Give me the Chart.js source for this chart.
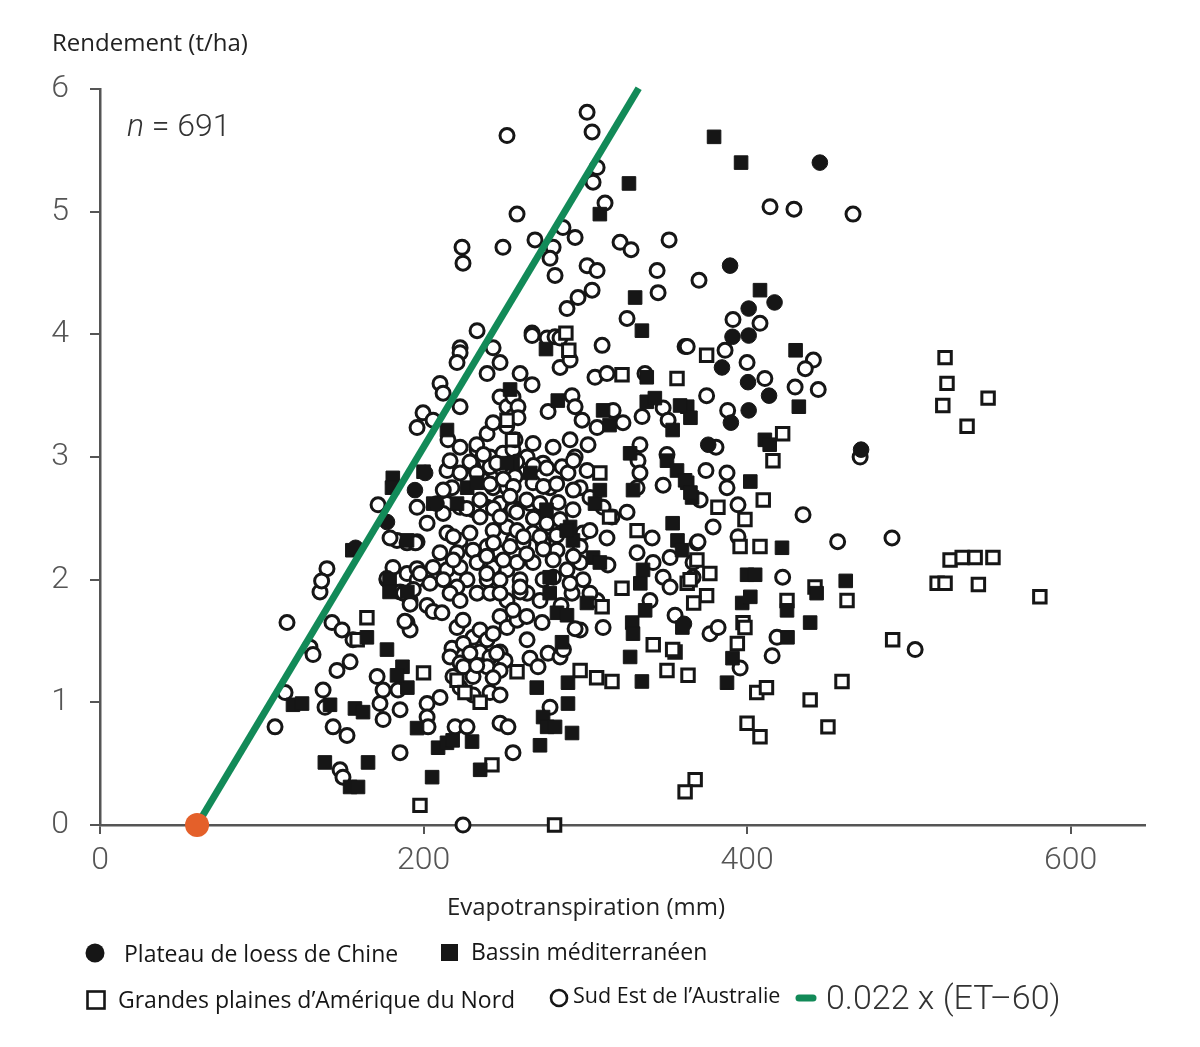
<!DOCTYPE html>
<html>
<head>
<meta charset="utf-8">
<script src="https://cdn.jsdelivr.net/npm/chart.js@4"></script>
<style>
html,body{margin:0;padding:0;background:#fff;}
#wrap{width:1200px;height:1047px;}
</style>
</head>
<body>
<div id="wrap"><canvas id="c" width="1200" height="1047"></canvas></div>
<script>
// ---- Data (ET in mm, yield in t/ha) ----
const xTicks = [0, 200, 400, 600];
const yTicks = [0, 1, 2, 3, 4, 5, 6];
const fitSlope = 0.022;
const fitET0 = 60;
const fitETEnd = 333;

const loessPoints = [
  [445,5.40],[389.5,4.56],[401,4.21],[417,4.26],[401,3.99],[391,3.98],[384.5,3.73],[400.6,3.61],
  [413.6,3.50],[401,3.38],[390,3.28],[376,3.10],[470.5,3.06],[201,2.87],[194.7,2.73],[177.4,2.47],
  [208,2.62],[158,2.26],[361,1.64]
];

const mediterraneanPoints = [
  [379.6,5.61],[396.3,5.40],[327,5.23],[309,4.98],[330.8,4.30],[335,4.03],[275.7,3.88],[408,4.36],
  [430,3.87],[432,3.41],[363,3.41],[365,3.32],[411,3.14],[414,3.10],[402,2.80],[363,2.79],[366,2.67],
  [421.6,2.26],[400,2.04],[405,2.04],[461,1.99],[443,1.89],[397,1.81],[402,1.86],[424.7,1.75],[439,1.65],
  [425,1.53],[391,1.36],[387.6,1.16],[360,1.61],
  [338,3.65],[283,3.46],[311,3.38],[315,3.26],[338,3.45],[343,3.48],[358.6,3.42],[354,3.22],[350.5,2.97],
  [356.7,2.89],[361.7,2.81],[365,2.71],[327.7,3.03],[329.5,2.73],[255,2.95],[266,2.87],[309,2.73],[306,2.62],
  [290.6,2.43],[292.4,2.32],[276,2.57],[354,2.46],[357,2.32],[359.8,2.24],[304.8,2.18],[309,2.14],[335.7,2.08],
  [278,2.02],[288.5,2.40],
  [181,2.83],[180.5,2.75],[214.5,3.22],[200,2.88],[227,2.75],[233,2.79],[206,2.62],[220.7,2.62],[253.5,3.55],
  [251.6,2.95],[156,2.24],[189.8,2.32],[179,2.0],
  [179,1.9],[190,1.9],[165,1.53],[177.4,1.43],[187,1.29],[190,1.12],[183.6,1.22],[119.3,0.98],[124.9,0.99],
  [142.2,0.98],[157.6,0.95],[162.6,0.92],[139,0.51],[165.7,0.51],[154.6,0.31],[159.5,0.31],[196,0.79],
  [205.3,0.39],[209,0.63],[214.5,0.67],[218,0.69],[230,0.68],[235,0.45],[273.9,0.88],[276.4,0.80],[281.3,0.80],
  [272,0.65],[291.8,0.75],[270,1.12],[289.3,1.16],[289.3,0.99],[285.6,1.49],[278,1.89],[282.5,1.73],[288.7,1.71],
  [301,1.81],[334,1.97],[337,1.75],[329,1.65],[329.5,1.56],[327.7,1.37],[335,1.17]
];

const greatPlainsPoints = [
  [522.4,3.81],[523.6,3.60],[521,3.42],[549,3.48],[536,3.25],[525.5,2.16],[533,2.18],[541,2.18],[552,2.18],
  [517.5,1.97],[522.4,1.97],[543,1.96],[581,1.86],
  [375,3.83],[422,3.19],[416,2.97],[410,2.65],[382,2.59],[398.7,2.49],[408,2.27],[395.7,2.27],[442,1.94],
  [461.8,1.83],[424.7,1.83],[369,2.16],[377,2.05],[363,1.97],[375,1.87],[367,1.81],[397.5,1.65],
  [398.7,1.61],[394,1.48],[355.5,1.41],[350.5,1.26],[363.5,1.22],[406,1.08],[412,1.12],[458.7,1.17],[490,1.51],
  [439,1.02],[450,0.80],[400,0.83],[408,0.72],[367.9,0.37],[361.7,0.27],
  [165,1.69],[159,1.51],[200,1.24],[220.7,1.18],[225.6,1.08],[235,1.0],[242.3,0.49],[197.8,0.16],[257.8,1.25],
  [296.8,1.26],[307,1.2],[316.5,1.17],[310.4,1.78],[322.7,1.93],[342,1.47],[354,1.43],[281,0],
  [251.6,3.30],[255,3.14],[356.7,3.64],[309,2.87],[332,2.40],[364.8,2.0],[315,2.51],[288,4.01],[289.8,3.87],
  [322.7,3.67]
];

const australiaPoints = [
  [301.1,5.81],[304.2,5.65],[251.6,5.62],[307.3,5.36],[304.8,5.24],[257.8,4.98],[223.8,4.71],[224.4,4.58],
  [249.1,4.71],[268.9,4.77],[280.1,4.71],[278.2,4.62],[281.3,4.48],[312.2,5.07],[414.2,5.04],[429,5.02],
  [465.5,4.98],[286.2,4.87],[293.7,4.79],[321.5,4.75],[328.3,4.69],[351.8,4.77],[301.1,4.56],[307.3,4.52],
  [344.4,4.52],[370.3,4.44],[304.2,4.36],[295.5,4.30],[288.7,4.21],[345,4.34],[325.8,4.13],[391.3,4.12],
  [408,4.09],[233.1,4.03],[222.6,3.89],[267.1,4.01],[276.4,3.97],[281.3,3.98],
  [222.6,3.85],[220.7,3.77],[243,3.89],[247.3,3.77],[239.3,3.68],[210.2,3.60],[212.1,3.52],[222.6,3.41],
  [199.7,3.36],[196,3.24],[205.9,3.30],[215.1,3.14],[222.6,3.08],[247.3,3.49],[251.6,3.41],[255.3,3.33],
  [239.3,3.19],[243,3.28],[233.1,3.06],[241.1,3.00],[249.1,3.03],[255.3,3.06],[214.5,2.89],[222.6,2.87],
  [230.6,2.92],[241.1,2.92],[249.1,2.89],[255.3,2.87],[217.6,2.75],[236.8,2.81],[243,2.75],[251.6,2.75],
  [196,2.59],[214.5,2.62],[222.6,2.59],[230.6,2.57],[239.3,2.59],[247.3,2.62],[255.3,2.59],[202.2,2.46],
  [212.1,2.54],[234.9,2.51],[171.9,2.61],[183.6,2.32],[196,2.31],[214.5,2.38],[222.6,2.32],[228.7,2.38],
  [243,2.40],[251.6,2.43],[255.3,2.32],[210.2,2.22],[220.7,2.22],[230.6,2.24],[239.3,2.27],[247.3,2.22],
  [181.1,2.10],[189.8,2.05],[205.9,2.10],[214.5,2.08],[222.6,2.10],[233.1,2.14],[243,2.10],[251.6,2.08],
  [140.3,2.09],[177.4,2.00],[196,2.00],[226.9,2.00],[239.3,2.00],
  [267.1,3.99],[284.4,3.97],[310.4,3.91],[361.7,3.90],[284.4,3.73],[290.6,3.79],[259.7,3.68],[267.1,3.59],
  [306,3.65],[313.4,3.68],[336.9,3.68],[255.3,3.49],[258.4,3.41],[258.4,3.32],[277,3.37],[291.8,3.50],
  [293.7,3.41],[298,3.30],[307.3,3.24],[317.2,3.38],[323.3,3.28],[335.1,3.33],[348.1,3.40],[351.2,3.30],
  [333.8,3.10],[332.6,2.97],[333.8,2.87],[332,2.75],[348.1,2.77],[350.5,3.02],[256.6,3.14],[267.7,3.11],
  [280.1,3.08],[290.6,3.14],[301.7,3.10],[293.7,3.00],[285.6,2.92],[273.9,2.95],[264,3.00],[256.6,2.84],
  [267.7,2.79],[278.2,2.75],[289.3,2.87],[301.1,2.89],[296.8,2.75],[302.9,2.67],[311,2.59],[325.8,2.55],
  [316.5,2.51],[255.3,2.57],[265.8,2.62],[273.9,2.51],[283.2,2.63],[292.4,2.57],[257.8,2.40],[267.7,2.38],
  [278.2,2.43],[261.5,2.30],[273.9,2.30],[282.5,2.24],[298.6,2.38],[302.9,2.40],[313.4,2.34],[296.8,2.27],
  [341.3,2.34],[369.1,2.30],[257.8,2.14],[267.7,2.14],[280.1,2.16],[288.7,2.08],[296.8,2.14],[314,2.12],
  [332,2.22],[341.9,2.14],[352.4,2.18],[366.6,2.14],[259.7,2.00],[273.9,2.00],[298.6,2.00],[348.1,2.02],
  [366.6,2.02],
  [136,1.90],[115.6,1.65],[143.4,1.65],[149.6,1.59],[156.4,1.51],[129.8,1.45],[131.7,1.39],[146.5,1.26],
  [154.6,1.33],[171.3,1.21],[137.9,1.10],[139.1,0.96],[114.4,1.08],[108.2,0.80],[144.1,0.80],[152.7,0.73],
  [148.4,0.45],[150.2,0.39],[185.5,0.59],[175,0.86],[173.1,0.99],[175,1.10],[184.2,1.10],[185.5,0.94],
  [189.8,1.65],[191.7,1.59],[191.7,1.83],[185.5,1.90],[202.2,1.79],[205.9,1.74],[211.4,1.73],[202.2,0.99],
  [202.2,0.88],[202.8,0.80],[210.2,1.04],[219.5,0.80],[226.9,0.80],[247.3,0.83],[252.2,0.80],[255.3,0.59],
  [220.7,1.61],[224.4,1.67],[230.6,1.53],[234.9,1.59],[239.3,1.51],[243,1.56],[247.3,1.70],[251.6,1.61],
  [257.8,1.67],[264,1.51],[273.3,1.65],[217.6,1.44],[216.4,1.37],[222.6,1.32],[230.6,1.37],[234.9,1.41],
  [241.1,1.37],[247.3,1.41],[250.4,1.34],[239.3,1.29],[247.3,1.26],[230.6,1.21],[243,1.20],[218.2,1.21],
  [222.6,1.12],[230.6,1.06],[241.1,1.08],[247.3,1.06],[265.8,1.36],[270.8,1.29],[277,1.40],[284.4,1.37],
  [296.8,1.59],[311,1.61],[291.8,1.89],[307.3,1.83],[340,1.83],[278.2,0.96],[352.4,1.94],[220.7,1.94],
  [233.1,1.89],[241.1,1.89],[251.6,1.83],[255.3,1.75],[264,1.89],[272,1.83],[137,1.99],
  [179.3,2.34],[189.8,2.30],[195,2.30],[177.4,2.01],[196,2.09],[187.6,1.89],[191.7,1.80],[188.5,1.66],
  [363,3.90],[386.4,3.87],[400,3.77],[411,3.64],[441,3.79],[436,3.72],[444,3.55],[429.7,3.57],[375,3.50],
  [388,3.38],[387.6,2.87],[387.6,2.75],[371,2.65],[394.4,2.61],[379,2.43],[369.7,2.31],[394.4,2.35],[422,2.02],
  [434.6,2.53],[456,2.31],[489.6,2.34],[469.9,3.0],[380.8,3.08],[374.6,2.89],
  [377.1,1.56],[382.1,1.61],[395.7,1.28],[415.5,1.38],[418.5,1.53],[503.9,1.43],[355.5,1.71],[224.4,0],
  // denser core (second reading)
  [232.9,3.10],[251.4,3.25],[216.4,2.97],[228.7,2.96],[237,3.02],[245.2,2.95],[257.6,2.96],[267.9,2.93],
  [276.2,2.91],[292.6,2.97],[232.9,2.87],[241.1,2.78],[249.3,2.82],[255.5,2.76],[274.1,2.76],[282.3,2.78],
  [292.6,2.73],[212.2,2.73],[226.7,2.58],[234.9,2.65],[243.2,2.58],[253.5,2.68],[263.8,2.65],[272,2.62],
  [247.3,2.51],[257.6,2.55],[267.9,2.50],[276.2,2.46],[284.4,2.49],[218.4,2.35],[261.7,2.35],[272,2.35],
  [282.3,2.36],[243.2,2.30],[253.5,2.27],[263.8,2.21],[274.1,2.25],[292.6,2.19],[197.8,2.05],[218.4,2.16],
  [239.1,2.19],[249.3,2.16],[204,1.97],[212.2,2.0],[239.1,2.05],[247.3,2.0],[280.3,2.02],[290.6,1.97],
  [193.7,1.92],[216.4,1.89],[247.3,1.89],[259.7,1.90],
  [222.6,1.83],[259.7,1.94],[263.8,1.70],[224.6,1.48],[228.7,1.40],[245.2,1.40],[224.6,1.29],[232.9,1.30],
  [286.5,1.43],[293.7,1.60],[302.9,1.89],[285,1.79]
];

const toXY = arr => arr.map(p => ({x: p[0], y: p[1]}));

const INK = '#161616';

const textPlugin = {
  id: 'texts',
  afterDraw(chart) {
    const ctx = chart.ctx;
    ctx.save();
    ctx.fillStyle = '#222';
    ctx.textBaseline = 'middle';
    ctx.textAlign = 'left';
    ctx.font = '24px "Open Sans"';
    ctx.fillText('Rendement (t/ha)', 52, 44);
    ctx.textAlign = 'center';
    ctx.fillText('Evapotranspiration (mm)', 586, 908);

    // n = 691
    ctx.textAlign = 'left';
    ctx.fillStyle = '#333';
    ctx.font = 'italic 300 32px Roboto';
    ctx.fillText('n', 127, 128);
    const nw = ctx.measureText('n').width;
    ctx.font = '300 32px Roboto';
    ctx.fillText(' = 691', 127 + nw, 128);

    // legend
    ctx.fillStyle = INK;
    ctx.strokeStyle = INK;
    ctx.font = '23px "Open Sans"';
    ctx.beginPath(); ctx.arc(95, 953, 9.5, 0, Math.PI * 2); ctx.fill();
    ctx.fillText('Plateau de loess de Chine', 124, 955);
    ctx.fillRect(441, 944, 17, 17);
    ctx.fillText('Bassin méditerranéen', 471, 953);

    ctx.lineWidth = 2.6;
    ctx.strokeRect(87.5, 991.5, 17, 17);
    ctx.fillText('Grandes plaines d’Amérique du Nord', 118, 1001);
    ctx.beginPath(); ctx.arc(559, 998, 8, 0, Math.PI * 2); ctx.stroke();
    ctx.font = '21.5px "Open Sans"';
    ctx.fillText('Sud Est de l’Australie', 573, 997);

    ctx.strokeStyle = '#128a58';
    ctx.lineWidth = 7;
    ctx.lineCap = 'round';
    ctx.beginPath(); ctx.moveTo(799, 998); ctx.lineTo(813, 998); ctx.stroke();
    ctx.fillStyle = '#333';
    ctx.font = '300 34px Roboto';
    ctx.fillText('0.022 x (ET–60)', 826, 1000);
    ctx.restore();
  }
};

const fitLine = [fitET0, fitETEnd].map(et => ({x: et, y: fitSlope * (et - fitET0)}));

const openStyle = {backgroundColor: '#ffffff', borderColor: INK, borderWidth: 3};
const filledStyle = {backgroundColor: INK, borderColor: INK, borderWidth: 1};

new Chart(document.getElementById('c'), {
  type: 'scatter',
  data: {
    datasets: [
      {label: 'Orange', data: [{x: fitET0, y: 0}], pointRadius: 12, pointHoverRadius: 12,
        backgroundColor: '#e4602a', borderColor: '#e4602a', borderWidth: 0, order: -1, clip: false},
      {label: '0.022 x (ET–60)', type: 'line', data: fitLine, borderColor: '#128a58', borderWidth: 7,
        pointRadius: 0, fill: false, order: 0, clip: false, borderCapStyle: 'butt'},
      Object.assign({label: 'Plateau de loess de Chine', data: toXY(loessPoints), pointStyle: 'circle',
        pointRadius: 7.8, order: 1, clip: false}, filledStyle),
      Object.assign({label: 'Bassin méditerranéen', data: toXY(mediterraneanPoints), pointStyle: 'rect',
        pointRadius: 9.6, order: 2, clip: false}, filledStyle),
      Object.assign({label: 'Grandes plaines d’Amérique du Nord', data: toXY(greatPlainsPoints), pointStyle: 'rect',
        pointRadius: 8.8, order: 3, clip: false}, openStyle),
      Object.assign({label: 'Sud Est de l’Australie', data: toXY(australiaPoints), pointStyle: 'circle',
        pointRadius: 7, order: 4, clip: false}, openStyle)
    ]
  },
  options: {
    responsive: false,
    animation: false,
    devicePixelRatio: 1,
    events: [],
    layout: {padding: {left: 0, top: 89, right: 55, bottom: 0}},
    plugins: {legend: {display: false}, tooltip: {enabled: false}},
    scales: {
      x: {
        type: 'linear', min: 0, max: 646,
        afterFit(s) { s.height = 222; },
        afterBuildTicks(s) { s.ticks = xTicks.map(v => ({value: v})); },
        border: {display: true, color: '#555', width: 2.5},
        grid: {display: true, drawOnChartArea: false, drawTicks: true, tickLength: 9, color: '#555', lineWidth: 2},
        ticks: {color: '#555', padding: 8, font: {family: 'Roboto', size: 32, weight: '300'}}
      },
      y: {
        type: 'linear', min: 0, max: 6,
        afterFit(s) { s.width = 100; },
        afterBuildTicks(s) { s.ticks = yTicks.map(v => ({value: v})); },
        border: {display: true, color: '#555', width: 2.5},
        grid: {display: true, drawOnChartArea: false, drawTicks: true, tickLength: 10, color: '#555', lineWidth: 2},
        ticks: {color: '#555', padding: 21, font: {family: 'Roboto', size: 32, weight: '300'}}
      }
    }
  },
  plugins: [textPlugin]
});
</script>
</body>
</html>
